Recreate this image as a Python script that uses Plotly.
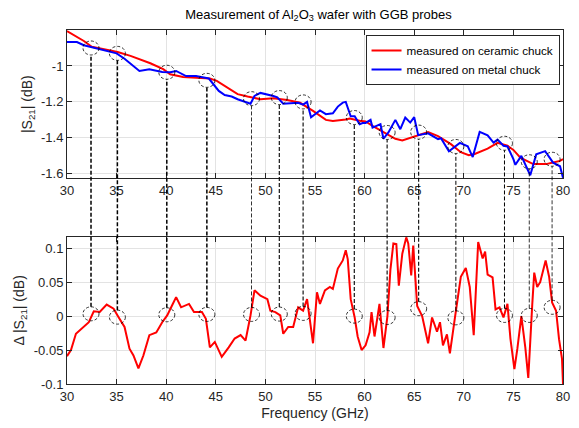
import plotly.graph_objects as go
from plotly.subplots import make_subplots

# ---------------- data ----------------
f_ceramic = [30.0, 31.7, 32.5, 35.1, 36.4, 38.4, 39.7, 40.4, 41.7, 43.0, 44.4, 45.1, 46.2, 46.8,
             47.2, 48.2, 49.5, 50.8, 52.2, 53.5, 54.8, 56.1, 56.8, 58.1, 58.5, 59.5, 60.1, 60.8,
             62.1, 63.1, 63.8, 65.1, 66.4, 67.4, 68.7, 69.7, 70.5, 71.1, 72.0, 72.4, 73.4, 74.4,
             75.0, 75.7, 77.0, 78.3, 79.0, 79.7, 80.0]
s21_ceramic = [-0.806, -0.861, -0.893, -0.922, -0.944, -0.985, -1.018, -1.046, -1.062, -1.065,
               -1.07, -1.083, -1.12, -1.14, -1.157, -1.17, -1.185, -1.18, -1.19, -1.205, -1.25,
               -1.3, -1.306, -1.298, -1.292, -1.305, -1.309, -1.333, -1.375, -1.405, -1.415,
               -1.39, -1.368, -1.39, -1.435, -1.48, -1.497, -1.49, -1.472, -1.46, -1.428,
               -1.444, -1.467, -1.51, -1.546, -1.546, -1.537, -1.528, -1.518]

f_metal = [30.0, 31.0, 31.7, 33.0, 34.0, 35.0, 35.8, 36.7, 37.3, 38.3, 39.6, 40.4, 41.0, 42.0,
           43.0, 44.3, 45.3, 45.9, 46.6, 47.2, 48.5, 48.9, 49.5, 50.8, 51.2, 51.8, 52.5, 53.3,
           53.8, 54.2, 54.6, 55.5, 56.1, 56.8, 57.3, 57.8, 58.1, 58.6, 59.0, 59.5, 59.8, 60.1,
           60.6, 60.8, 61.6, 61.9, 62.4, 62.8, 63.1, 63.6, 64.1, 64.6, 65.0, 65.4, 66.4, 67.4,
           67.7, 68.5, 69.6, 70.4, 70.9, 71.6, 72.4, 73.0, 73.4, 74.0, 74.4, 75.0, 75.2, 75.8,
           76.7, 77.3, 78.2, 79.0, 79.7, 80.0]
s21_metal = [-0.867, -0.867, -0.885, -0.904, -0.917, -0.93, -0.96, -1.0, -1.028, -1.018, -1.033,
             -1.035, -1.028, -1.056, -1.056, -1.07, -1.139, -1.162, -1.17, -1.185, -1.21, -1.167,
             -1.15, -1.167, -1.175, -1.21, -1.207, -1.205, -1.215, -1.2, -1.285, -1.247, -1.268,
             -1.263, -1.226, -1.204, -1.2, -1.28, -1.28, -1.324, -1.318, -1.317, -1.3, -1.343,
             -1.324, -1.405, -1.37, -1.328, -1.3, -1.352, -1.287, -1.315, -1.285, -1.385, -1.375,
             -1.407, -1.402, -1.475, -1.428, -1.447, -1.507, -1.367, -1.386, -1.426, -1.41,
             -1.444, -1.448, -1.518, -1.55, -1.5, -1.608, -1.492, -1.474, -1.538, -1.558, -1.622]

f_delta = [30.0, 30.4, 30.9, 31.7, 32.2, 32.7, 33.3, 34.0, 34.7, 35.2, 35.8, 36.3, 36.7, 37.2,
           37.7, 38.3, 39.0, 39.6, 40.1, 40.6, 41.0, 41.5, 42.3, 42.8, 43.6, 44.0, 44.4, 44.9,
           45.6, 46.3, 46.9, 47.5, 48.0, 48.5, 48.9, 49.5, 50.2, 50.5, 51.0, 51.5, 51.8, 52.3,
           52.8, 53.3, 53.8, 54.2, 54.5, 54.8, 55.2, 55.5, 56.0, 56.5, 56.8, 57.3, 57.8, 58.1,
           58.3, 58.6, 59.0, 59.3, 59.7, 60.1, 60.5, 60.7, 61.0, 61.5, 61.9, 62.3, 62.6, 62.9,
           63.2, 63.45, 63.8, 64.2, 64.4, 64.7, 64.9, 65.3, 65.8, 66.4, 66.8, 67.3, 67.6, 67.9,
           68.3, 68.6, 69.1, 69.4, 69.7, 70.2, 70.6, 71.0, 71.45, 71.9, 72.15, 72.4, 72.9, 73.2,
           73.6, 74.0, 74.4, 74.7, 75.1, 75.4, 75.8, 76.2, 76.5, 76.9, 77.1, 77.4, 77.7, 78.25,
           78.6, 78.9, 79.3, 79.6, 79.9, 80.0]
delta_s21 = [-0.059, -0.05, -0.026, -0.016, -0.009, 0.007, 0.006, 0.017, 0.011, -0.0015, -0.016,
             -0.048, -0.058, -0.077, -0.058, -0.028, -0.024, -0.009, 0.001, 0.016, 0.028, 0.013,
             0.018, 0.006, 0.006, -0.004, -0.046, -0.038, -0.06, -0.046, -0.033, -0.028, -0.036,
             0.001, 0.038, 0.03, 0.025, 0.008, 0.006, 0.001, -0.026, -0.016, -0.016, 0.013, 0.008,
             0.025, -0.009, -0.04, 0.035, 0.018, 0.038, 0.043, 0.04, 0.07, 0.082, 0.097, 0.084,
             0.025, -0.002, -0.03, -0.05, -0.043, -0.024, 0.006, -0.03, 0.018, -0.047, 0.0,
             0.068, 0.107, 0.106, 0.045, 0.092, 0.116, 0.107, 0.06, 0.104, 0.015, 0.0, -0.04,
             -0.002, -0.023, -0.009, -0.043, -0.027, -0.055, -0.003, 0.028, 0.058, 0.071, 0.043,
             -0.028, 0.109, 0.085, 0.095, 0.061, 0.057, 0.01, 0.013, -0.002, 0.018, -0.033,
             -0.078, -0.048, 0.0, -0.046, -0.091, 0.017, 0.064, 0.043, 0.05, 0.082, 0.058, 0.02,
             0.008, -0.034, -0.063, -0.1]

# matched points (circles) : frequency, |S21| in top plot, delta in bottom plot
f_match = [32.42, 35.08, 40.06, 44.1, 48.6, 51.4, 53.8, 58.96, 62.27, 65.45, 69.2, 74.1, 76.6, 78.9]
s21_match = [-0.9, -0.93, -1.035, -1.08, -1.182, -1.176, -1.2, -1.287, -1.37, -1.368, -1.448,
             -1.43, -1.533, -1.519]
delta_match = [0.0034, -0.0015, 0.002, 0.0025, 0.0025, 0.003, 0.004, 0.0, -0.002, 0.011, -0.0025,
               0.001, 0.001, 0.013]

x_ticks = [30, 35, 40, 45, 50, 55, 60, 65, 70, 75, 80]
top_yticks = [-1.6, -1.4, -1.2, -1.0]
top_yticktext = ["-1.6", "-1.4", "-1.2", "-1"]
bot_yticks = [-0.1, -0.05, 0, 0.05, 0.1]
bot_yticktext = ["-0.1", "-0.05", "0", "0.05", "0.1"]

# ---------------- style / layout ----------------
W, H = 579, 428
ML, MR, MT, MB = 67, 9, 30, 44
plot_h = H - MT - MB
top_dom = [(384 - 178.3) / plot_h, 1.0]
bot_dom = [0.0, (384 - 236.7) / plot_h]
top_rng = [-1.625, -0.8]
bot_rng = [-0.1, 0.117]
FONT = "Liberation Sans, Arial, Helvetica, sans-serif"
AX = "#262626"
GRID = "#e3e3e3"
line_w = [1.5, 1.5, 1.5, 1.5, 0.8, 1.1, 1.1, 1.1, 1.1, 1.1, 1.0, 1.0, 0.8, 0.8]
circ_rx, circ_ry = 8, 7

fig = make_subplots(rows=2, cols=1)

fig.add_trace(go.Scatter(x=f_ceramic, y=s21_ceramic, mode="lines", name="measured on ceramic chuck",
                         line=dict(color="#ff0000", width=2)), row=1, col=1)
fig.add_trace(go.Scatter(x=f_metal, y=s21_metal, mode="lines", name="measured on metal chuck",
                         line=dict(color="#0000ff", width=2)), row=1, col=1)
fig.add_trace(go.Scatter(x=f_delta, y=delta_s21, mode="lines", showlegend=False,
                         line=dict(color="#ff0000", width=2)), row=2, col=1)


def to_paper(v, rng, dom):
    return dom[0] + (v - rng[0]) / (rng[1] - rng[0]) * (dom[1] - dom[0])


shapes = []
for i, fx in enumerate(f_match):
    ytop = to_paper(s21_match[i], top_rng, top_dom) - circ_ry / plot_h
    ybot = to_paper(delta_match[i], bot_rng, bot_dom) + circ_ry / plot_h
    shapes.append(dict(type="line", xref="x", yref="paper", x0=fx, x1=fx, y0=ybot, y1=ytop,
                       line=dict(color="black", width=line_w[i], dash="4px,2px")))
    shapes.append(dict(type="circle", xref="x", yref="y", xsizemode="pixel", ysizemode="pixel",
                       xanchor=fx, yanchor=s21_match[i], x0=-circ_rx, x1=circ_rx,
                       y0=-circ_ry, y1=circ_ry, line=dict(color="black", width=0.8, dash="3px,2px")))
    shapes.append(dict(type="circle", xref="x2", yref="y2", xsizemode="pixel", ysizemode="pixel",
                       xanchor=fx, yanchor=delta_match[i], x0=-circ_rx, x1=circ_rx,
                       y0=-circ_ry, y1=circ_ry, line=dict(color="black", width=0.8, dash="3px,2px")))

axis_common = dict(showline=True, linecolor=AX, linewidth=1, mirror="ticks", ticks="inside",
                   ticklen=5, tickcolor=AX, showgrid=True, gridcolor=GRID, gridwidth=1,
                   zeroline=False, tickfont=dict(family=FONT, size=13, color=AX))

fig.update_layout(
    width=W, height=H, margin=dict(l=ML, r=MR, t=MT, b=MB),
    paper_bgcolor="white", plot_bgcolor="white",
    font=dict(family=FONT, size=13, color=AX),
    title=dict(text="Measurement of Al<sub>2</sub>O<sub>3</sub> wafer with GGB probes",
               x=(ML + (W - ML - MR) / 2) / W, xanchor="center", y=1 - 14 / H, yanchor="middle",
               font=dict(family=FONT, size=13, color="black")),
    legend=dict(x=0.993, y=1 - 5 / plot_h, xanchor="right", yanchor="top",
                bgcolor="white", bordercolor=AX, borderwidth=1,
                font=dict(family=FONT, size=11.7, color="black"),
                tracegroupgap=0, itemwidth=30),
    shapes=shapes,
)

fig.update_xaxes(axis_common)
fig.update_yaxes(axis_common)
fig.update_xaxes(range=[30, 80], tickvals=x_ticks, domain=[0, 1])
fig.update_yaxes(range=top_rng, tickvals=top_yticks, ticktext=top_yticktext, domain=top_dom,
                 title=dict(text="|S<sub>21</sub>| (dB)", standoff=5, font=dict(family=FONT, size=14, color=AX)),
                 row=1, col=1)
fig.update_yaxes(range=bot_rng, tickvals=bot_yticks, ticktext=bot_yticktext, domain=bot_dom,
                 title=dict(text="Δ |S<sub>21</sub>| (dB)", standoff=5, font=dict(family=FONT, size=14, color=AX)),
                 row=2, col=1)
fig.update_xaxes(title=dict(text="Frequency (GHz)", standoff=5, font=dict(family=FONT, size=14, color=AX)),
                 row=2, col=1)

fig.write_html("out.html")
